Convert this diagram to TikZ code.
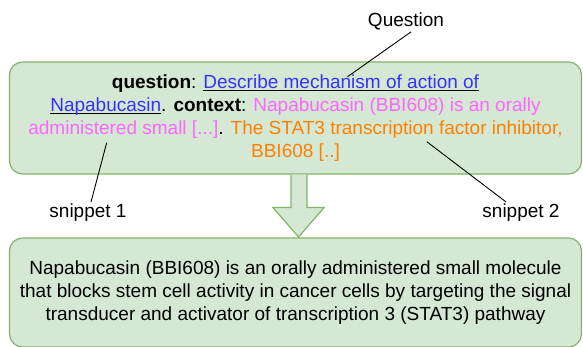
\documentclass[tikz,border=0pt]{standalone}
\usepackage{fontspec}
\setmainfont{Liberation Sans}
\usepackage{xcolor}
\usetikzlibrary{calc}

\definecolor{boxfill}{HTML}{D5E8D4}
\definecolor{boxline}{HTML}{82B366}
\definecolor{qblue}{HTML}{3333FF}
\definecolor{cpink}{HTML}{FF66FF}
\definecolor{corange}{HTML}{FF8000}
\newsavebox{\qbox}
\newcommand{\qpart}[1]{\sbox{\qbox}{\textcolor{qblue}{#1}}%
	\rlap{\rule[-2.6pt]{\wd\qbox}{1.3pt}}\usebox{\qbox}}

\begin{document}
\begin{tikzpicture}[x=1pt,y=-1pt,
	box/.style={draw=boxline, fill=boxfill, line width=1.2pt, rounded corners=13pt,
		minimum width=572pt, align=center, font=\fontsize{19}{23}\selectfont},
	lbl/.style={font=\fontsize{19}{23}\selectfont, inner sep=2pt},
	callout/.style={draw=black, line width=0.9pt}]
	\useasboundingbox (0,0) rectangle (583,347);
	\node[box, minimum height=112pt] (prompt) at (295.5,118)
	{\textbf{question}: \qpart{Describe mechanism of action of}\\
		\qpart{Napabucasin}. \textbf{context}: \textcolor{cpink}{Napabucasin (BBI608) is an orally}\\
		\textcolor{cpink}{administered small [...]}. \textcolor{corange}{The STAT3 transcription factor inhibitor,}\\
		\textcolor{corange}{BBI608 [..]}};
	\node[box, minimum height=109pt] (answer) at (295.5,292.5)
	{Napabucasin (BBI608) is an orally administered small molecule\\
		that blocks stem cell activity in cancer cells by targeting the signal\\
		transducer and activator of transcription 3 (STAT3) pathway};
	% block arrow between the two boxes
	\coordinate (tip) at (298.5,237);
	\fill[boxfill, draw=boxline, line width=1.2pt]
	($(prompt.south)+(-4.5,0)$) -- ++(0,33) -- ++(-18,0) -- (tip)
	-- ($(prompt.south)+(28.5,33)$) -- ++(-17,0) -- ($(prompt.south)+(11.5,0)$);
	% labels
	\node[lbl] (question) at (406,21) {Question};
	\node[lbl] (snip1) at (88,213) {snippet 1};
	\node[lbl] (snip2) at (521,213) {snippet 2};
	\coordinate (q) at (347.6,76.7);
	\coordinate (s1) at (106.7,142.7);
	\coordinate (s2) at (426.8,141.7);
	\path[callout]
	([xshift=5pt]question.south) edge (q)
	([xshift=3pt]snip1.north) edge (s1)
	([xshift=-15pt]snip2.north) edge (s2)
	;
\end{tikzpicture}
\end{document}
